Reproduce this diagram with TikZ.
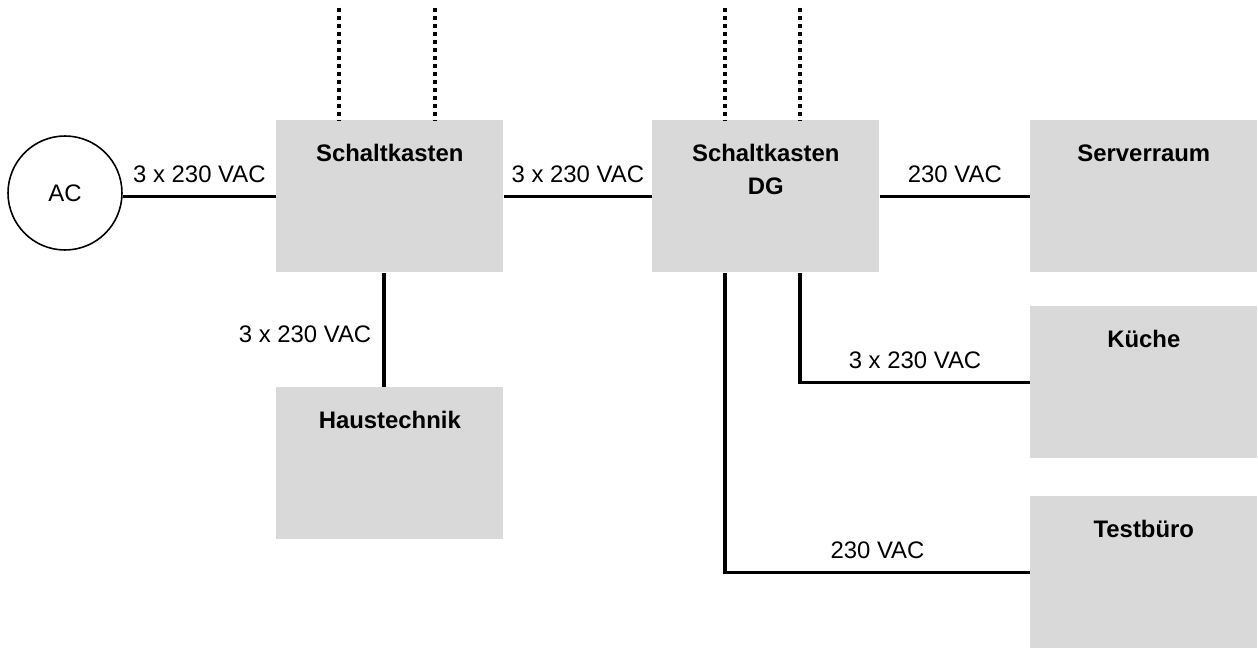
\documentclass[tikz,border=0pt]{standalone}
\usepackage{fontspec}
\setmainfont{Liberation Sans}
\usepackage{tikz}
\usetikzlibrary{positioning}
\definecolor{boxgray}{HTML}{D9D9D9}

\begin{document}
\begin{tikzpicture}[x=0.02cm, y=-0.02cm,
        font=\fontsize{13.6}{18.8}\selectfont,
        room/.style={fill=boxgray, minimum width=4.54cm, minimum height=3.04cm, anchor=north west, inner sep=0pt},
        title/.style={font=\fontsize{13.6}{18.8}\selectfont\bfseries, align=center, inner sep=0pt, below=0.48cm of #1.north},
        wire/.style={line width=2pt},
        feed/.style={line width=2.1pt, dash pattern=on 0.08cm off 0.08cm},
        volt/.style={inner sep=0pt, above=0.24cm}]
        \useasboundingbox (0,0) rectangle (1258,648);

        % Versorgung und Verteiler
        \node[draw, circle, line width=0.9pt, minimum size=2.28cm, inner sep=0pt] (ac) at (65,193) {AC};
        \node[room] (sk) at (276,120) {};
        \node[room] (dg) at (652,120) {};
        \node[room] (server) at (1030,120) {};
        \node[room] (haus) at (276,387) {};
        \node[room] (kueche) at (1030,306) {};
        \node[room] (test) at (1030,496) {};

        \node[title=sk] {Schaltkasten};
        \node[title=dg] {Schaltkasten\\DG};
        \node[title=server] {Serverraum};
        \node[title=haus] {Haustechnik};
        \node[title=kueche] {Küche};
        \node[title=test] {Testbüro};

        % Abgaenge nach oben
        \coordinate (t1) at (339,8);
        \coordinate (t2) at (435,8);
        \coordinate (t3) at (725,8);
        \coordinate (t4) at (800,8);
        \coordinate (h1) at (384,0);
        \foreach \t/\k in {t1/sk, t2/sk, t3/dg, t4/dg}
            \draw[feed] (\t) -- (\t |- \k.north);

        % Leitungen
        \draw[wire] (sk.west -| ac.east) -- node[volt]{3 x 230 VAC} (sk.west);
        \draw[wire] (sk.east) -- node[volt]{3 x 230 VAC} (dg.west);
        \draw[wire] (dg.east) -- node[volt]{230 VAC} (server.west);
        \draw[wire] (h1 |- sk.south) -- node[inner sep=0pt, left=0.22cm, yshift=-0.08cm]{3 x 230 VAC} (h1 |- haus.north);
        \draw[wire] (t4 |- dg.south) |- node[volt, pos=0.75]{3 x 230 VAC} (kueche.west);
        \draw[wire] (t3 |- dg.south) |- node[volt, pos=0.75]{230 VAC} (test.west);
    \end{tikzpicture}
\end{document}
